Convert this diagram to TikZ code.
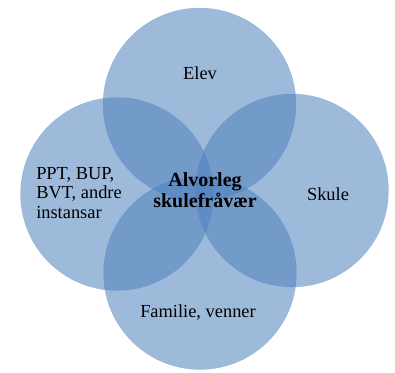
\documentclass[tikz,border=0pt]{standalone}
\usepackage{fontspec}
\setmainfont{Liberation Serif}
\definecolor{ringblue}{RGB}{79,129,189}
\begin{document}
\begin{tikzpicture}[
x=0.75pt, y=0.75pt,
ring/.style={circle, fill=ringblue, fill opacity=0.55, draw=ringblue, draw opacity=0.25, line width=0.4pt, minimum size=193*0.75pt, inner sep=0pt},
ringtext/.style={font=\fontsize{13.8}{14.8}\selectfont, text=black, inner sep=0pt},
centretext/.style={font=\fontsize{15}{15.5}\selectfont\bfseries, text=black, align=center, inner sep=0pt},
]
\useasboundingbox (0,0) rectangle (395,372);
% the four circles
\node[ring] (elev) at (199.5,267.5) {};
\node[ring] (andre) at (117,178) {};
\node[ring] (skule) at (292,181.5) {};
\node[ring] (familie) at (200,99) {};
% texts
\node[ringtext] (elevtxt) at (200,299) {Elev};
\node[ringtext] (skuletxt) at (328,178) {Skule};
\node[ringtext] (familietxt) at (198,59) {Familie, venner};
\node[ringtext, align=left, anchor=west] (andretxt) at (36,179) {PPT, BUP,\\BVT, andre\\instansar};
\node[centretext] (midt) at (205,182) {Alvorleg\\skulefråvær};
\end{tikzpicture}
\end{document}
